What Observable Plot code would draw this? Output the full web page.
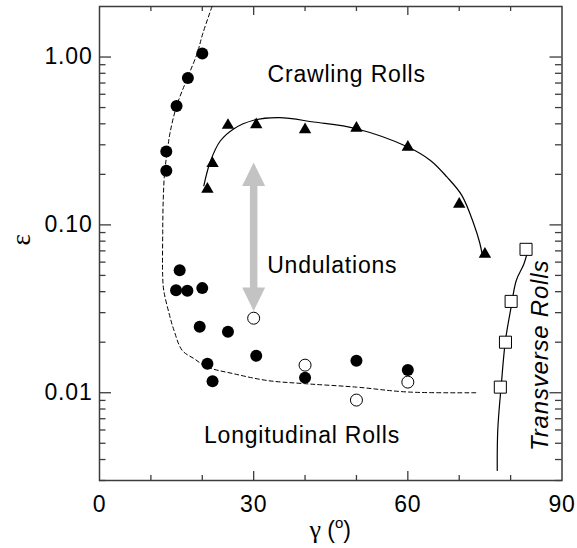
<!DOCTYPE html>
<html><head><meta charset="utf-8">
<script src="https://cdn.jsdelivr.net/npm/d3@7"></script>
<script src="https://cdn.jsdelivr.net/npm/@observablehq/plot@0.6"></script>
<style>
body{margin:0;background:#fff}
svg text{letter-spacing:0.8px}
</style>
</head><body><div id="chart"></div>
<script>
// ---- data ----
const filledX = [20, 17.2, 15, 13, 13, 15.6, 14.9, 17.1, 20, 19.5, 25, 30.5, 21, 22, 40, 50, 60];
const filledY = [1.05, 0.75, 0.51, 0.274, 0.21, 0.0537, 0.0408, 0.0405, 0.042, 0.0247, 0.0231, 0.0166, 0.0149, 0.0117, 0.0123, 0.0155, 0.01365];
const openX = [30, 40, 50, 60];
const openY = [0.0278, 0.0146, 0.00904, 0.01157];
const triX = [21, 22, 25, 30.5, 40, 50, 60, 70, 75];
const triY = [0.163, 0.232, 0.392, 0.395, 0.369, 0.377, 0.29, 0.133, 0.067];
const sqX = [78, 79, 80.1, 83];
const sqY = [0.0108, 0.02, 0.035, 0.0715];

// boundary curves
const dashX = [21.9, 20.1, 19.0, 17.1, 15.0, 13.7, 13.2, 12.7, 12.4, 12.3, 12.3, 12.5, 13.5, 14.5, 16.1, 18.4, 21.0, 26.1, 32.6, 40, 50, 60, 73.5];
const dashY = [2.0, 1.38, 1.05, 0.75, 0.51, 0.35, 0.274, 0.21, 0.14, 0.0887, 0.0489, 0.0407, 0.030, 0.0235, 0.01787, 0.01596, 0.01422, 0.01298, 0.01183, 0.01132, 0.0108, 0.0101, 0.0100];
const crawlX = [20.3, 21.6, 23.5, 26.1, 30, 35, 41.7, 50, 60, 64.4, 67.6, 70.5, 72.8, 74, 74.5];
const crawlY = [0.171, 0.24, 0.316, 0.373, 0.42, 0.435, 0.41, 0.374, 0.291, 0.242, 0.193, 0.15, 0.102, 0.078, 0.066];
const transX = [77.4, 77.5, 78.2, 79, 80.1, 81.1, 82.6, 83.7];
const transY = [0.00344, 0.006, 0.0113, 0.0205, 0.0324, 0.0466, 0.0587, 0.0773];

// arrow (Undulations range)
const arrowX = [30];
const arrowTop = [0.235];
const arrowBottom = [0.0307];

// labels
const regionLabels = ["Crawling Rolls", "Undulations", "Longitudinal Rolls"];
const regionX = [48.1, 45.3, 39.4];
const regionY = [0.80, 0.0581, 0.0056];
const transLabel = ["Transverse Rolls"];
const transLabelX = [85.8];
const transLabelY = [0.0167];

// ticks
const xTickLabels = [0, 30, 60, 90];
const xMajorTicks = [30, 60];
const xMinorTicks = [10, 20, 40, 50, 70, 80];
const yMajorTicks = [0.01, 0.1, 1];
const yMinorTicks = [0.003, 0.004, 0.005, 0.006, 0.007, 0.008, 0.009, 0.02, 0.03, 0.04, 0.05, 0.06, 0.07, 0.08, 0.09, 0.2, 0.3, 0.4, 0.5, 0.6, 0.7, 0.8, 0.9];

// ---- build tables ----
const zipXY = (xs, ys) => xs.map((x, i) => ({x, y: ys[i]}));
const filled = zipXY(filledX, filledY);
const open = zipXY(openX, openY);
const tris = zipXY(triX, triY);
const squares = zipXY(sqX, sqY);
const dashLine = zipXY(dashX, dashY);
const crawlLine = zipXY(crawlX, crawlY);
const transLine = zipXY(transX, transY);
const arrow = arrowX.map((x, i) => ({x, top: arrowTop[i], bottom: arrowBottom[i]}));
const regions = regionLabels.map((t, i) => ({t, x: regionX[i], y: regionY[i]}));
const trans = transLabel.map((t, i) => ({t, x: transLabelX[i], y: transLabelY[i]}));

// ---- layout ----
const W = 577, H = 548, ML = 99, MR = 15.5, MT = 6, MB = 68;
const IW = W - ML - MR, IH = H - MT - MB;
const axisColor = "#3c3c3c";
const arrowColor = "#c3c3c3";
const headUp = {draw(ctx) { ctx.moveTo(0, 0); ctx.lineTo(-11.5, 23.5); ctx.lineTo(11.5, 23.5); ctx.closePath(); }};
const headDown = {draw(ctx) { ctx.moveTo(0, 0); ctx.lineTo(-11.5, -23.5); ctx.lineTo(11.5, -23.5); ctx.closePath(); }};

const plot = Plot.plot({
  width: W, height: H,
  marginLeft: ML, marginRight: MR, marginTop: MT, marginBottom: MB,
  style: {fontFamily: "'Liberation Sans', Arial, sans-serif", fontSize: "23px", background: "#fff", color: "#000", overflow: "visible"},
  x: {domain: [0, 90]},
  y: {type: "log", domain: [0.003, 2.0]},
  marks: [
    // inward ticks
    Plot.ruleY(yMajorTicks, {insetRight: IW - 12, stroke: axisColor, strokeWidth: 1.3}),
    Plot.ruleY(yMinorTicks, {insetRight: IW - 6.5, stroke: axisColor, strokeWidth: 1.3}),
    Plot.ruleY(yMajorTicks, {insetLeft: IW - 12, stroke: axisColor, strokeWidth: 1.3}),
    Plot.ruleY(yMinorTicks, {insetLeft: IW - 6.5, stroke: axisColor, strokeWidth: 1.3}),
    Plot.ruleX(xMajorTicks, {insetTop: IH - 9, stroke: axisColor, strokeWidth: 1.3}),
    Plot.ruleX(xMinorTicks, {insetTop: IH - 5, stroke: axisColor, strokeWidth: 1.3}),
    Plot.ruleX(xMajorTicks, {insetBottom: IH - 9, stroke: axisColor, strokeWidth: 1.3}),
    Plot.ruleX(xMinorTicks, {insetBottom: IH - 5, stroke: axisColor, strokeWidth: 1.3}),
    Plot.frame({stroke: axisColor, strokeWidth: 1.5}),
    Plot.axisX({anchor: "bottom", ticks: xTickLabels, tickSize: 0, tickPadding: 15, label: null, fill: "#000"}),
    Plot.axisY({anchor: "left", ticks: yMajorTicks, tickFormat: d3.format(".2f"), tickSize: 0, tickPadding: 7, label: null, fill: "#000"}),
    // arrow
    Plot.ruleX(arrow, {x: "x", y1: "top", y2: "bottom", insetTop: 20, insetBottom: 20, stroke: arrowColor, strokeWidth: 7.5}),
    Plot.dot(arrow, {x: "x", y: "top", symbol: headUp, r: 10, fill: arrowColor, stroke: "none"}),
    Plot.dot(arrow, {x: "x", y: "bottom", symbol: headDown, r: 10, fill: arrowColor, stroke: "none"}),
    // curves
    Plot.line(dashLine, {x: "x", y: "y", curve: "catmull-rom", stroke: "#000", strokeWidth: 1, strokeDasharray: "4,3"}),
    Plot.line(crawlLine, {x: "x", y: "y", curve: "catmull-rom", stroke: "#000", strokeWidth: 1.2}),
    Plot.line(transLine, {x: "x", y: "y", curve: "catmull-rom", stroke: "#000", strokeWidth: 1.2}),
    // markers
    Plot.dot(filled, {x: "x", y: "y", r: 6, fill: "#000", stroke: "none"}),
    Plot.dot(open, {x: "x", y: "y", r: 6, fill: "#fff", stroke: "#000", strokeWidth: 1}),
    Plot.dot(tris, {x: "x", y: "y", symbol: "triangle", r: 4.6, fill: "#000", stroke: "none"}),
    Plot.dot(squares, {x: "x", y: "y", symbol: "square", r: 6.8, fill: "#fff", stroke: "#000", strokeWidth: 1}),
    // region labels
    Plot.text(regions, {x: "x", y: "y", text: "t", fontSize: 23, fill: "#000", dy: 1}),
    Plot.text(trans, {x: "x", y: "y", text: "t", fontSize: 24, fontStyle: "italic", rotate: -90, fill: "#000"}),
    // y label
    Plot.text(["ε"], {frameAnchor: "left", dx: -78, dy: 2, rotate: -90, fontSize: 27, fontFamily: "'Liberation Serif', serif", fill: "#000"})
  ]
});

// x label with superscript
const svg = d3.select(plot);
const lab = svg.append("text")
  .attr("x", ML + IW / 2).attr("y", 538)
  .attr("text-anchor", "middle").attr("font-size", 23).attr("fill", "#000")
  .style("letter-spacing", "0px");
lab.append("tspan").attr("font-family", "'Liberation Serif', serif").attr("font-size", 26).text("γ");
lab.append("tspan").text(" (");
lab.append("tspan").attr("font-size", 15).attr("dy", -10).text("o");
lab.append("tspan").attr("dy", 10).text(")");

document.getElementById("chart").append(plot);
</script>
</body></html>
